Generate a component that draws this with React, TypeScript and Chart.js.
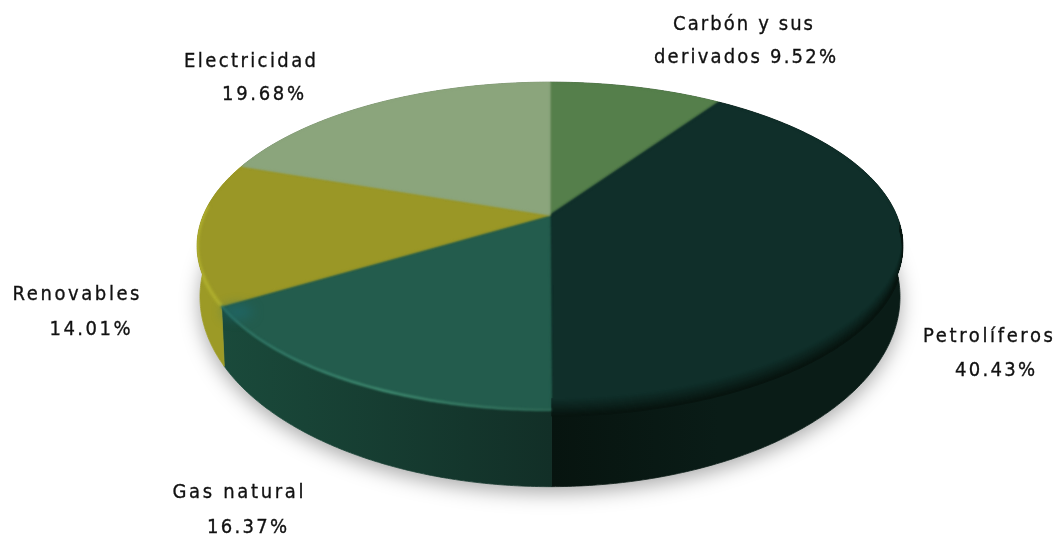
import React, { useEffect, useRef } from "react";
import { Chart, registerables } from "chart.js";

Chart.register(...registerables);

// Share of final energy use by source, percent.
const categories = ["Carbón y sus derivados", "Petrolíferos", "Gas natural", "Renovables", "Electricidad"];
const shares = [9.52, 40.43, 16.37, 14.01, 19.68];
const faceColors = ["#557f4b", "#102f2a", "#235c4d", "#9a9726", "#8ba57c"];
const sideColors: [string, string][] = [
  ["#3e5f38", "#3e5f38"],
  ["#07140f", "#0a1c17"],
  ["#1a4a3b", "#122f27"],
  ["#a8a82c", "#9c9a26"],
  ["#6e8762", "#6e8762"],
];

const labelLines = [
  ["Carbón y sus", "derivados 9.52%"],
  ["Petrolíferos", "40.43%"],
  ["Gas natural", "16.37%"],
  ["Renovables", "14.01%"],
  ["Electricidad", "19.68%"],
];
// Centre x, baseline y and set width of every label line.
const labelAnchors = [
  [[743, 30, 140], [745, 63, 182]],
  [[988, 342, 130], [995, 376, 80]],
  [[238, 498, 131], [247, 533, 80]],
  [[76, 300, 127], [90, 335, 81]],
  [[250, 67, 132], [263, 100, 82]],
];
const labelSquash = 0.9;

type Disc = { cx: number; cy: number; a: number; b: number; k: number };
const topDisc: Disc = { cx: 550, cy: 215, a: 346.6, b: 158, k: 0.189 };
const baseDisc: Disc = { cx: 550, cy: 261, a: 343.7, b: 183, k: 0.189 };

// Perspective projection of a unit circle angle onto a disc.
function project(d: Disc, angle: number): [number, number] {
  const u = Math.cos(angle);
  const v = Math.sin(angle);
  const w = 1 - d.k * v;
  return [d.cx + (d.a * u) / w, d.cy + (d.b * v) / w];
}

function traceArc(ctx: CanvasRenderingContext2D, d: Disc, from: number, to: number, move: boolean, dy = 0) {
  const steps = Math.max(2, Math.ceil(Math.abs(to - from) / 0.01));
  for (let i = 0; i <= steps; i++) {
    const [x, y] = project(d, from + ((to - from) * i) / steps);
    if (i === 0 && move) ctx.moveTo(x, y + dy);
    else ctx.lineTo(x, y + dy);
  }
}

function mix(a: number[], b: number[], t: number) {
  return `rgb(${a.map((c, i) => Math.round(c + (b[i] - c) * t)).join(",")})`;
}

const pie3d = {
  id: "pie3d",
  beforeDatasetsDraw(chart: Chart) {
    const ctx = chart.ctx;
    const arcs = chart.getDatasetMeta(0).data as any[];
    const full = Math.PI * 2;

    // Soft shadow under the base of the disc.
    ctx.save();
    ctx.shadowColor = "rgba(0,0,0,0.34)";
    ctx.shadowBlur = 20;
    ctx.shadowOffsetY = 6;
    ctx.fillStyle = "#fff";
    ctx.beginPath();
    traceArc(ctx, baseDisc, 0, full, true);
    ctx.closePath();
    ctx.fill();
    ctx.restore();

    // Rim of every slice.
    arcs.forEach((arc, i) => {
      const [x0] = project(topDisc, arc.startAngle);
      const [x1] = project(topDisc, arc.endAngle);
      const g = ctx.createLinearGradient(x0, 0, x1 === x0 ? x0 + 1 : x1, 0);
      g.addColorStop(0, sideColors[i][1]);
      g.addColorStop(1, sideColors[i][0]);
      ctx.fillStyle = g;
      ctx.strokeStyle = g;
      ctx.lineWidth = 0.8;
      ctx.beginPath();
      traceArc(ctx, topDisc, arc.startAngle, arc.endAngle, true);
      traceArc(ctx, baseDisc, arc.endAngle, arc.startAngle, false);
      ctx.closePath();
      ctx.fill();
      ctx.stroke();
    });

    // Top faces, kept inside the solid's outline.
    ctx.save();
    ctx.beginPath();
    traceArc(ctx, topDisc, 0, full, true);
    ctx.closePath();
    traceArc(ctx, baseDisc, 0, full, true);
    ctx.closePath();
    ctx.clip();

    const faces = () =>
      arcs.forEach((arc) => {
        ctx.fillStyle = arc.options.backgroundColor;
        ctx.strokeStyle = arc.options.backgroundColor;
        ctx.lineWidth = 0.8;
        ctx.beginPath();
        ctx.moveTo(topDisc.cx, topDisc.cy);
        traceArc(ctx, topDisc, arc.startAngle, arc.endAngle, false);
        ctx.closePath();
        ctx.fill();
        ctx.stroke();
      });
    faces();
    ctx.filter = "blur(1px)";
    faces();
    ctx.filter = "none";

    // Rounded edge of the large slice: colour bands from face to rim.
    const petro = arcs[1];
    const bands = 16;
    for (let i = 0; i <= bands; i++) {
      const t = i / bands;
      ctx.strokeStyle = mix([16, 47, 42], [7, 20, 15], t);
      ctx.lineWidth = 1.6;
      ctx.beginPath();
      traceArc(ctx, topDisc, 0.06, petro.endAngle, true, -11 + t * 17);
      ctx.stroke();
    }

    const gas = arcs[2];
    ctx.filter = "blur(1.2px)";
    const hl = ctx.createLinearGradient(550, 0, 222, 0);
    hl.addColorStop(0, "#2c6553");
    hl.addColorStop(0.5, "#3f8a70");
    hl.addColorStop(1, "#2b6e60");
    ctx.strokeStyle = hl;
    ctx.lineWidth = 2.5;
    ctx.beginPath();
    traceArc(ctx, topDisc, gas.startAngle, gas.endAngle, true);
    ctx.stroke();

    const ren = arcs[3];
    ctx.filter = "blur(1.5px)";
    ctx.strokeStyle = "#b4b430";
    ctx.lineWidth = 3;
    ctx.beginPath();
    traceArc(ctx, topDisc, ren.startAngle, Math.PI * 1.02, true);
    ctx.stroke();

    // Teal tint in the outer corner of the gas slice.
    ctx.filter = "blur(6px)";
    ctx.fillStyle = "rgba(30,110,120,0.55)";
    const [cx, cy] = project(topDisc, gas.endAngle);
    ctx.beginPath();
    ctx.ellipse(cx + 16, cy + 6, 15, 7, 0, 0, full);
    ctx.fill();
    ctx.restore();

    // Labels, narrowed and spread to each line's set width.
    ctx.save();
    ctx.fillStyle = "#111";
    ctx.strokeStyle = "#111";
    ctx.lineWidth = 0.35;
    ctx.font = "20px 'DejaVu Sans'";
    ctx.textAlign = "left";
    ctx.textBaseline = "alphabetic";
    labelLines.forEach((lines, i) => {
      lines.forEach((line, j) => {
        const [x, y, width] = labelAnchors[i][j];
        (ctx as any).letterSpacing = "0px";
        const natural = ctx.measureText(line).width;
        const spacing = (width / labelSquash - natural) / (line.length - 1);
        (ctx as any).letterSpacing = `${spacing}px`;
        ctx.save();
        ctx.translate(x - width / 2, y);
        ctx.scale(labelSquash, 1);
        ctx.fillText(line, 0, 0);
        ctx.strokeText(line, 0, 0);
        ctx.restore();
      });
    });
    ctx.restore();

    return false;
  },
};

export default function App() {
  const ref = useRef<HTMLCanvasElement>(null);
  useEffect(() => {
    const chart = new Chart(ref.current!, {
      type: "pie",
      data: {
        labels: categories,
        datasets: [{ data: shares, backgroundColor: faceColors, borderWidth: 0 }],
      },
      options: {
        responsive: false,
        animation: false,
        events: [],
        plugins: { legend: { display: false }, tooltip: { enabled: false } },
      },
      plugins: [pie3d as any],
    });
    return () => chart.destroy();
  }, []);
  return (
    <div style={{ position: "absolute", left: 0, top: 0, width: 1056, height: 535, background: "#fff" }}>
      <canvas ref={ref} width={1056} height={535} style={{ display: "block" }} />
    </div>
  );
}
